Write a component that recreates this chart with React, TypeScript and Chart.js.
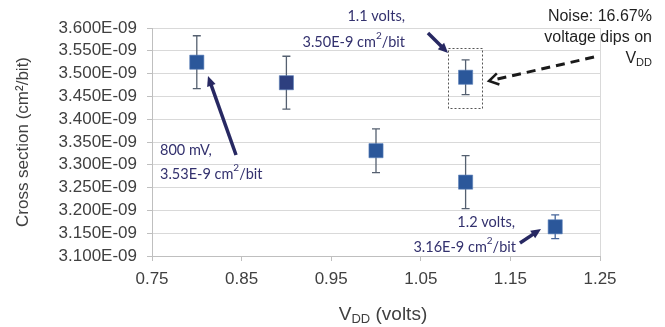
import React, { useEffect, useRef } from 'react';
import { Chart, registerables } from 'chart.js';

Chart.register(...registerables);

// Data (cross section in units of 1E-09 cm²/bit)
const vdd = [0.8, 0.9, 1.0, 1.1, 1.1, 1.2];
const crossSection = [3.525, 3.48, 3.331, 3.492, 3.262, 3.164];
const errorBar = [0.058, 0.058, 0.048, 0.038, 0.058, 0.026];
const xTicks = [0.75, 0.85, 0.95, 1.05, 1.15, 1.25];
const yTicks = [3.1, 3.15, 3.2, 3.25, 3.3, 3.35, 3.4, 3.45, 3.5, 3.55, 3.6];

// Styles
const pointColors = ['#2B579A', '#2D3F7F', '#2B579A', '#2B579A', '#2B579A', '#2B579A'];
const errColors = ['#556070', '#556070', '#556070', '#556070', '#556070', '#46659A'];

// Annotations in data coordinates
type Part = { t: string; sup?: boolean; sub?: boolean };
const annoTexts: { x: number; y: number; align: CanvasTextAlign; parts: Part[]; kind: 'label' | 'note' }[] = [
  { x: 0.7589, y: 3.3325, align: 'left', parts: [{ t: '800 mV,' }], kind: 'label' },
  { x: 0.7589, y: 3.2798, align: 'left', parts: [{ t: '3.53E-9 cm' }, { t: '2', sup: true }, { t: '/bit' }], kind: 'label' },
  { x: 1.0324, y: 3.6263, align: 'right', parts: [{ t: '1.1 volts,' }], kind: 'label' },
  { x: 1.0324, y: 3.5693, align: 'right', parts: [{ t: '3.50E-9 cm' }, { t: '2', sup: true }, { t: '/bit' }], kind: 'label' },
  { x: 1.1551, y: 3.1746, align: 'right', parts: [{ t: '1.2 volts,' }], kind: 'label' },
  { x: 1.1562, y: 3.1197, align: 'right', parts: [{ t: '3.16E-9 cm' }, { t: '2', sup: true }, { t: '/bit' }], kind: 'label' },
  { x: 1.308, y: 3.6241, align: 'right', parts: [{ t: 'Noise: 16.67%' }], kind: 'note' },
  { x: 1.308, y: 3.5781, align: 'right', parts: [{ t: 'voltage dips on' }], kind: 'note' },
  { x: 1.308, y: 3.532, align: 'right', parts: [{ t: 'V' }, { t: 'DD', sub: true }], kind: 'note' },
];
const arrows = [
  { x1: 0.8438, y1: 3.3215, x2: 0.8125, y2: 3.4947, dashed: false },
  { x1: 1.058, y1: 3.589, x2: 1.0804, y2: 3.545, dashed: false },
  { x1: 1.1607, y1: 3.1285, x2: 1.1842, y2: 3.1592, dashed: false },
  { x1: 1.2433, y1: 3.5364, x2: 1.1261, y2: 3.4838, dashed: true },
];
const noiseBox = { x1: 1.0804, y1: 3.5561, x2: 1.1183, y2: 3.4246 };

const LABEL_FONT = 'Lato, "Open Sans", sans-serif';
const NOTE_FONT = '"Liberation Sans", Arial, sans-serif';

function drawRich(ctx: CanvasRenderingContext2D, parts: Part[], x: number, y: number, align: CanvasTextAlign, family: string, size: number, color: string) {
  const small = Math.round(size * 0.7);
  let total = 0;
  const widths = parts.map((p) => {
    ctx.font = `${p.sup || p.sub ? small : size}px ${family}`;
    const w = ctx.measureText(p.t).width;
    total += w;
    return w;
  });
  let cx = align === 'right' ? x - total : align === 'center' ? x - total / 2 : x;
  ctx.fillStyle = color;
  ctx.textAlign = 'left';
  ctx.textBaseline = 'middle';
  parts.forEach((p, i) => {
    ctx.font = `${p.sup || p.sub ? small : size}px ${family}`;
    const dy = p.sup ? -size * 0.4 : p.sub ? size * 0.25 : 0;
    ctx.fillText(p.t, cx, y + dy);
    cx += widths[i];
  });
}

const overlay = {
  id: 'overlay',
  beforeDatasetsDraw(chart: any) {
    const ctx: CanvasRenderingContext2D = chart.ctx;
    const xs = chart.scales.x;
    const ys = chart.scales.y;
    ctx.save();
    vdd.forEach((v, i) => {
      const px = xs.getPixelForValue(v);
      const top = ys.getPixelForValue(crossSection[i] + errorBar[i]);
      const bot = ys.getPixelForValue(crossSection[i] - errorBar[i]);
      ctx.strokeStyle = errColors[i];
      ctx.lineWidth = 1.3;
      ctx.beginPath();
      ctx.moveTo(px, top);
      ctx.lineTo(px, bot);
      ctx.moveTo(px - 4, top);
      ctx.lineTo(px + 4, top);
      ctx.moveTo(px - 4, bot);
      ctx.lineTo(px + 4, bot);
      ctx.stroke();
    });
    ctx.restore();
  },
  afterDraw(chart: any) {
    const ctx: CanvasRenderingContext2D = chart.ctx;
    const xs = chart.scales.x;
    const ys = chart.scales.y;
    const X = (v: number) => xs.getPixelForValue(v);
    const Y = (v: number) => ys.getPixelForValue(v);
    ctx.save();

    // dotted box
    ctx.strokeStyle = '#555555';
    ctx.lineWidth = 1;
    ctx.setLineDash([2, 2]);
    ctx.strokeRect(Math.round(X(noiseBox.x1)) + 0.5, Math.round(Y(noiseBox.y1)) + 0.5, Math.round(X(noiseBox.x2) - X(noiseBox.x1)), Math.round(Y(noiseBox.y2) - Y(noiseBox.y1)));
    ctx.setLineDash([]);

    // arrows
    arrows.forEach((a) => {
      const x1 = X(a.x1), y1 = Y(a.y1), x2 = X(a.x2), y2 = Y(a.y2);
      const ang = Math.atan2(y2 - y1, x2 - x1);
      if (a.dashed) {
        ctx.strokeStyle = '#1a1a1a';
        ctx.lineWidth = 3;
        ctx.setLineDash([9, 6]);
        ctx.beginPath();
        ctx.moveTo(x1, y1);
        ctx.lineTo(x2 + Math.cos(ang) * -3, y2 + Math.sin(ang) * -3);
        ctx.stroke();
        ctx.setLineDash([]);
        ctx.lineWidth = 2.5;
        ctx.beginPath();
        const hl = 11;
        ctx.moveTo(x2 - hl * Math.cos(ang - 0.55), y2 - hl * Math.sin(ang - 0.55));
        ctx.lineTo(x2, y2);
        ctx.lineTo(x2 - hl * Math.cos(ang + 0.55), y2 - hl * Math.sin(ang + 0.55));
        ctx.stroke();
      } else {
        const col = '#272862';
        const hl = 11;
        ctx.strokeStyle = col;
        ctx.fillStyle = col;
        ctx.lineWidth = 3.5;
        ctx.lineCap = 'butt';
        ctx.beginPath();
        ctx.moveTo(x1, y1);
        ctx.lineTo(x2 - Math.cos(ang) * hl * 0.8, y2 - Math.sin(ang) * hl * 0.8);
        ctx.stroke();
        ctx.beginPath();
        ctx.moveTo(x2, y2);
        ctx.lineTo(x2 - hl * Math.cos(ang - 0.42), y2 - hl * Math.sin(ang - 0.42));
        ctx.lineTo(x2 - hl * Math.cos(ang + 0.42), y2 - hl * Math.sin(ang + 0.42));
        ctx.closePath();
        ctx.fill();
      }
    });

    // texts
    annoTexts.forEach((t) => {
      if (t.kind === 'label') drawRich(ctx, t.parts, X(t.x), Y(t.y), t.align, LABEL_FONT, 14.5, '#33316E');
      else drawRich(ctx, t.parts, X(t.x), Y(t.y), t.align, NOTE_FONT, 16, '#1f1f1f');
    });

    // x-axis title with subscript
    const ca = chart.chartArea;
    drawRich(ctx, [{ t: 'V' }, { t: 'DD', sub: true }, { t: ' (volts)' }], (ca.left + ca.right) / 2 + 7, 315, 'center', NOTE_FONT, 19, '#404040');
    ctx.restore();
  },
};

export default function App() {
  const ref = useRef<HTMLCanvasElement>(null);
  useEffect(() => {
    document.body.style.margin = '0';
    const chart = new Chart(ref.current!, {
      type: 'scatter',
      data: {
        datasets: [
          {
            data: vdd.map((v, i) => ({ x: v, y: crossSection[i] })),
            pointStyle: 'rect',
            pointRadius: 10,
            pointHoverRadius: 10,
            backgroundColor: pointColors,
            borderColor: '#5A7FB8',
            borderWidth: 0.6,
          },
        ],
      },
      options: {
        animation: false,
        responsive: false,
        devicePixelRatio: 1,
        layout: { padding: { top: 28, right: 65, left: 0, bottom: 0 } },
        plugins: { legend: { display: false }, tooltip: { enabled: false } },
        scales: {
          x: {
            type: 'linear',
            min: 0.75,
            max: 1.25,
            afterBuildTicks: (s: any) => {
              s.ticks = xTicks.map((v) => ({ value: v }));
            },
            afterFit: (s: any) => {
              s.height = 71;
            },
            grid: {
              color: (c: any) => (c.index === xTicks.length - 1 ? '#D9D9D9' : 'rgba(0,0,0,0)'),
              tickColor: '#BFBFBF',
              tickLength: 5,
            },
            border: { color: '#BFBFBF' },
            ticks: {
              padding: 8,
              color: '#404040',
              font: { family: NOTE_FONT, size: 17 },
              callback: (v: any) => Number(v).toFixed(2),
              maxRotation: 0,
              autoSkip: false,
            },
          },
          y: {
            type: 'linear',
            min: 3.1,
            max: 3.6,
            afterBuildTicks: (s: any) => {
              s.ticks = yTicks.map((v) => ({ value: v }));
            },
            afterFit: (s: any) => {
              s.width = 152;
            },
            grid: { color: '#D9D9D9', tickColor: '#BFBFBF', tickLength: 5 },
            border: { color: '#BFBFBF' },
            ticks: {
              padding: 10,
              color: '#404040',
              font: { family: NOTE_FONT, size: 17 },
              callback: (v: any) => Number(v).toFixed(3) + 'E-09',
              autoSkip: false,
            },
            title: {
              display: true,
              text: 'Cross section (cm²/bit)',
              color: '#404040',
              font: { family: NOTE_FONT, size: 17 },
              padding: { top: 13, bottom: 0 },
            },
          },
        },
      },
      plugins: [overlay],
    });
    return () => chart.destroy();
  }, []);
  return (
    <div style={{ position: 'absolute', left: 0, top: 0, width: 665, height: 327 }}>
      <canvas ref={ref} width={665} height={327} />
    </div>
  );
}
